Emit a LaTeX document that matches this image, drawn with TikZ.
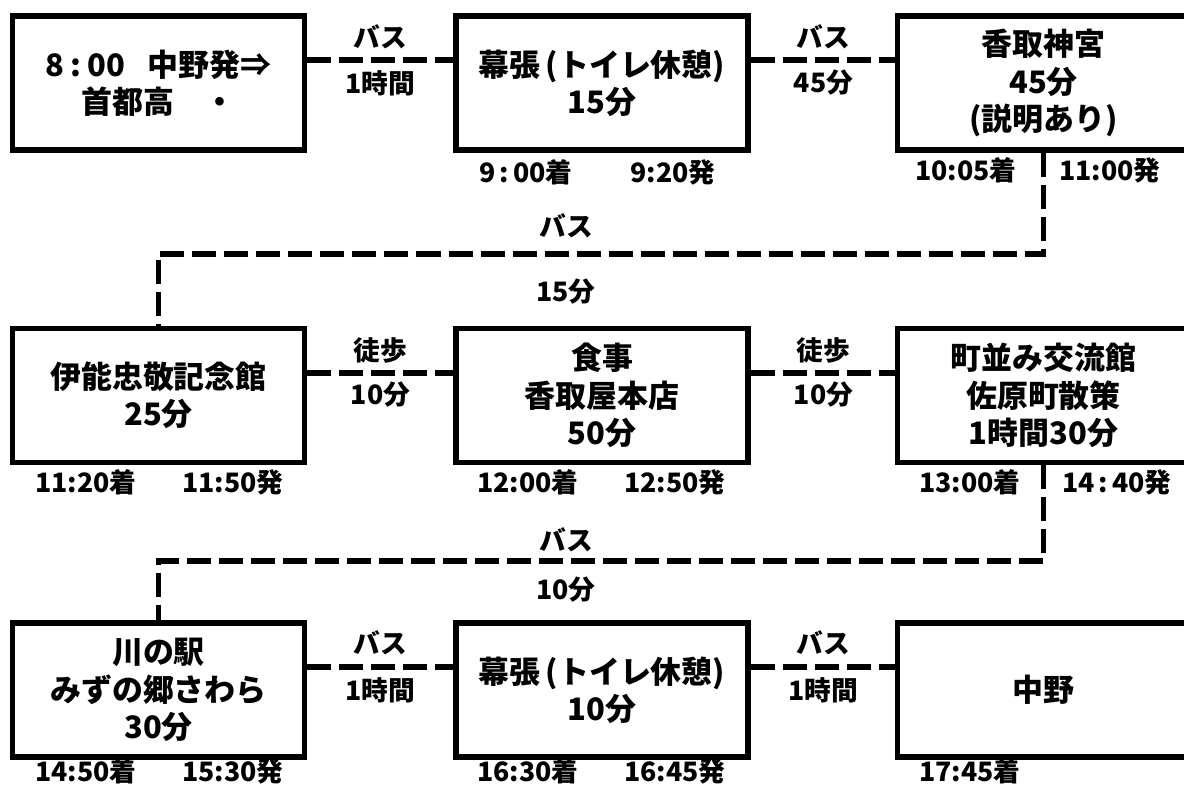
\documentclass[tikz,border=0pt]{standalone}
\usepackage{fontspec}
\setmainfont{Noto Sans CJK JP}
\usepackage{tikz}

\begin{document}
\begin{tikzpicture}[x=0.025cm,y=-0.025cm,
    box/.style={draw,line width=0.14cm,minimum width=7.3cm,minimum height=3.35cm,
      inner sep=0pt,align=center,font=\fontsize{22}{26.5}\selectfont\bfseries},
    link/.style={line width=0.14cm,dash pattern=on 0.6cm off 0.2cm},
    lab/.style={inner sep=0pt,font=\fontsize{19}{22}\selectfont\bfseries},
    tm/.style={inner sep=0pt,font=\fontsize{19}{21}\selectfont\bfseries}]
     \useasboundingbox (0,0) rectangle (1184,785);
     \node [box] (start) at (158.5,83) {8\hspace{0.2em}:\hspace{0.2em}00\hspace{0.7em}中野発⇒\\首都高　・};
     \node [box] (rest1) at (602,83) {幕張\,(トイレ休憩)\\15分};
     \node [box] (shrine) at (1043.5,83) {\raisebox{-0.2em}{香取神宮}\\\raisebox{-0.2em}{45分}\\\raisebox{-0.2em}{(説明あり)}};
     \node [box] (ino) at (158.5,395.5) {伊能忠敬記念館\\25分};
     \node [box] (lunch) at (602,395.5) {食事\\香取屋本店\\50分};
     \node [box] (town) at (1043.5,395.5) {町並み交流館\\佐原町散策\\1時間30分};
     \node [box] (river) at (158.5,690) {川の駅\\みずの郷さわら\\30分};
     \node [box] (rest2) at (602,690) {幕張\,(トイレ休憩)\\10分};
     \node [box] (goal) at (1043.5,690) {中野};
     \coordinate (row1) at (0,60);
     \coordinate (row2) at (0,373);
     \coordinate (row3) at (0,667);
     \coordinate (turn1) at (0,254);
     \coordinate (turn2) at (0,561);
     \draw [link] (start.east |- row1) -- (rest1.west |- row1);
     \draw [link] (rest1.east |- row1) -- (shrine.west |- row1);
     \draw [link] (shrine.south) -- (shrine.south |- turn1) -- (ino.north |- turn1) -- (ino.north);
     \draw [link] (ino.east |- row2) -- (lunch.west |- row2);
     \draw [link] (lunch.east |- row2) -- (town.west |- row2);
     \draw [link] (town.south) -- (town.south |- turn2) -- (river.north |- turn2) -- (river.north);
     \draw [link] (river.east |- row3) -- (rest2.west |- row3);
     \draw [link] (rest2.east |- row3) -- (goal.west |- row3);
     \node [lab] (bus1) at (380.5,37) {バス};
     \node [lab] (dur1) at (380.5,83) {1時間};
     \node [lab] (bus2) at (823.5,37) {バス};
     \node [lab] (dur2) at (823.5,83) {45分};
     \node [lab] (bus3) at (566,226) {バス};
     \node [lab] (dur3) at (566,292) {15分};
     \node [lab] (walk1) at (380.5,350) {徒歩};
     \node [lab] (dur4) at (380.5,395) {10分};
     \node [lab] (walk2) at (823.5,350) {徒歩};
     \node [lab] (dur5) at (823.5,395) {10分};
     \node [lab] (bus4) at (566,540) {バス};
     \node [lab] (dur6) at (566,590) {10分};
     \node [lab] (bus5) at (380.5,643) {バス};
     \node [lab] (dur7) at (380.5,690) {1時間};
     \node [lab] (bus6) at (823.5,643) {バス};
     \node [lab] (dur8) at (823.5,690) {1時間};
     \node [tm] (arr1) at (526,172) {9\hspace{0.15em}:\hspace{0.15em}00着};
     \node [tm] (dep1) at (673,172) {9:20発};
     \node [tm] (arr2) at (966,170) {10:05着};
     \node [tm] (dep2) at (1110,170) {11:00発};
     \node [tm] (arr3) at (86,482) {11:20着};
     \node [tm] (dep3) at (233,482) {11:50発};
     \node [tm] (arr4) at (528,482) {12:00着};
     \node [tm] (dep4) at (675,482) {12:50発};
     \node [tm] (arr5) at (970,482) {13:00着};
     \node [tm] (dep5) at (1117,482) {14\hspace{0.15em}:\hspace{0.15em}40発};
     \node [tm] (arr6) at (86,771) {14:50着};
     \node [tm] (dep6) at (233,771) {15:30発};
     \node [tm] (arr7) at (528,771) {16:30着};
     \node [tm] (dep7) at (675,771) {16:45発};
     \node [tm] (arr8) at (970,771) {17:45着};
 \end{tikzpicture}
\end{document}
